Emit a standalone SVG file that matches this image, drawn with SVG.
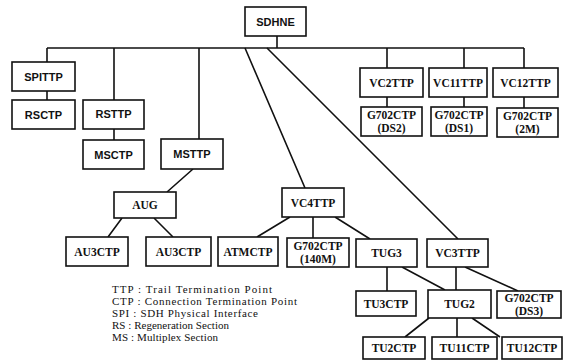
<svg xmlns="http://www.w3.org/2000/svg" width="565" height="361" viewBox="0 0 565 361">
<style>
.b{fill:#fff;stroke:#111;stroke-width:1.6}
.c{stroke:#111;stroke-width:1.6;fill:none}
.s{font-family:"Liberation Sans",Arial,sans-serif;font-size:11px;font-weight:bold;fill:#111;text-anchor:middle}
.t{font-family:"Liberation Serif","Times New Roman",serif;font-size:11.5px;font-weight:bold;fill:#111;text-anchor:middle}
.l{font-family:"Liberation Serif","Times New Roman",serif;font-size:11px;fill:#111}
</style>
<rect width="565" height="361" fill="#fff"/>
<g id="connectors">
<path class="c" d="M277 36V48M47 48H524M47 48V62M47 91V100M114 48V100M114 129V140M199 48V139"/>
<path class="c" d="M193 169L167 192M122 218L108 237M154 218L173 237"/>
<path class="c" d="M245 48L305 188M267 48L458 239"/>
<path class="c" d="M387 48V68M464 48V68M524 48V68M387 97V107M464 97V107M524 97V108"/>
<path class="c" d="M290 217L257 237M313 217V238M335 217L370 239"/>
<path class="c" d="M387 267V291M402 267L445 290M456 267V290M465 267L518 291"/>
<path class="c" d="M429 318L405 337M457 318V337M472 318L500 337"/>
</g>
<g id="SDHNE"><rect class="b" x="245" y="7" width="61" height="29"/><text class="s" x="275.5" y="25.5">SDHNE</text></g>
<g id="SPITTP"><rect class="b" x="12" y="62" width="63" height="29"/><text class="s" x="43.5" y="80.5">SPITTP</text></g>
<g id="RSCTP"><rect class="b" x="12" y="100" width="63" height="29"/><text class="s" x="43.5" y="118.5">RSCTP</text></g>
<g id="RSTTP"><rect class="b" x="83" y="100" width="61" height="29"/><text class="s" x="113.5" y="118">RSTTP</text></g>
<g id="MSCTP"><rect class="b" x="83" y="140" width="61" height="29"/><text class="s" x="113.5" y="158.5">MSCTP</text></g>
<g id="MSTTP"><rect class="b" x="161" y="139" width="62" height="30"/><text class="s" x="192" y="157.5">MSTTP</text></g>
<g id="VC2TTP"><rect class="b" x="360" y="68" width="63" height="29"/><text class="t" x="391.5" y="86.5">VC2TTP</text></g>
<g id="VC11TTP"><rect class="b" x="429" y="68" width="58" height="29"/><text class="t" x="458" y="86.5">VC11TTP</text></g>
<g id="VC12TTP"><rect class="b" x="493" y="68" width="65" height="29"/><text class="t" x="525.5" y="86.5">VC12TTP</text></g>
<g id="G702CTP_DS2"><rect class="b" x="361" y="107" width="61" height="29"/><text class="t" x="391.5" y="119">G702CTP</text><text class="t" x="391.5" y="132">(DS2)</text></g>
<g id="G702CTP_DS1"><rect class="b" x="431" y="107" width="56" height="29"/><text class="t" x="459" y="119">G702CTP</text><text class="t" x="459" y="132">(DS1)</text></g>
<g id="G702CTP_2M"><rect class="b" x="497" y="108" width="61" height="29"/><text class="t" x="527.5" y="120">G702CTP</text><text class="t" x="527.5" y="133">(2M)</text></g>
<g id="AUG"><rect class="b" x="114" y="192" width="62" height="26"/><text class="t" x="145" y="209">AUG</text></g>
<g id="AU3CTP_1"><rect class="b" x="66" y="237" width="62" height="29"/><text class="t" x="97" y="255.5">AU3CTP</text></g>
<g id="AU3CTP_2"><rect class="b" x="146" y="237" width="65" height="29"/><text class="t" x="178.5" y="255.5">AU3CTP</text></g>
<g id="ATMCTP"><rect class="b" x="218" y="237" width="60" height="29"/><text class="t" x="248" y="255.5">ATMCTP</text></g>
<g id="VC4TTP"><rect class="b" x="282" y="188" width="62" height="29"/><text class="t" x="313" y="206.5">VC4TTP</text></g>
<g id="G702CTP_140M"><rect class="b" x="287" y="238" width="62" height="29"/><text class="t" x="318" y="250">G702CTP</text><text class="t" x="318" y="263">(140M)</text></g>
<g id="TUG3"><rect class="b" x="356" y="239" width="61" height="28"/><text class="t" x="386.5" y="257">TUG3</text></g>
<g id="VC3TTP"><rect class="b" x="427" y="239" width="61" height="28"/><text class="t" x="457.5" y="257">VC3TTP</text></g>
<g id="TU3CTP"><rect class="b" x="356" y="291" width="60" height="25"/><text class="t" x="386" y="307.5">TU3CTP</text></g>
<g id="TUG2"><rect class="b" x="428" y="290" width="63" height="28"/><text class="t" x="459.5" y="308">TUG2</text></g>
<g id="G702CTP_DS3"><rect class="b" x="497" y="291" width="64" height="27"/><text class="t" x="529" y="302">G702CTP</text><text class="t" x="529" y="315">(DS3)</text></g>
<g id="TU2CTP"><rect class="b" x="363" y="337" width="62" height="22"/><text class="t" x="394" y="352">TU2CTP</text></g>
<g id="TU11CTP"><rect class="b" x="432" y="337" width="65" height="22"/><text class="t" x="464.5" y="352">TU11CTP</text></g>
<g id="TU12CTP"><rect class="b" x="502" y="337" width="60" height="22"/><text class="t" x="532" y="352">TU12CTP</text></g>
<g id="legend">
<text class="l" x="112" y="293" textLength="160" lengthAdjust="spacing">TTP : Trail Termination Point</text>
<text class="l" x="112" y="305" textLength="185" lengthAdjust="spacing">CTP : Connection Termination Point</text>
<text class="l" x="112" y="317" textLength="146" lengthAdjust="spacing">SPI : SDH Physical Interface</text>
<text class="l" x="112" y="329" textLength="117" lengthAdjust="spacing">RS : Regeneration Section</text>
<text class="l" x="112" y="341" textLength="106" lengthAdjust="spacing">MS : Multiplex Section</text>
</g>
</svg>
